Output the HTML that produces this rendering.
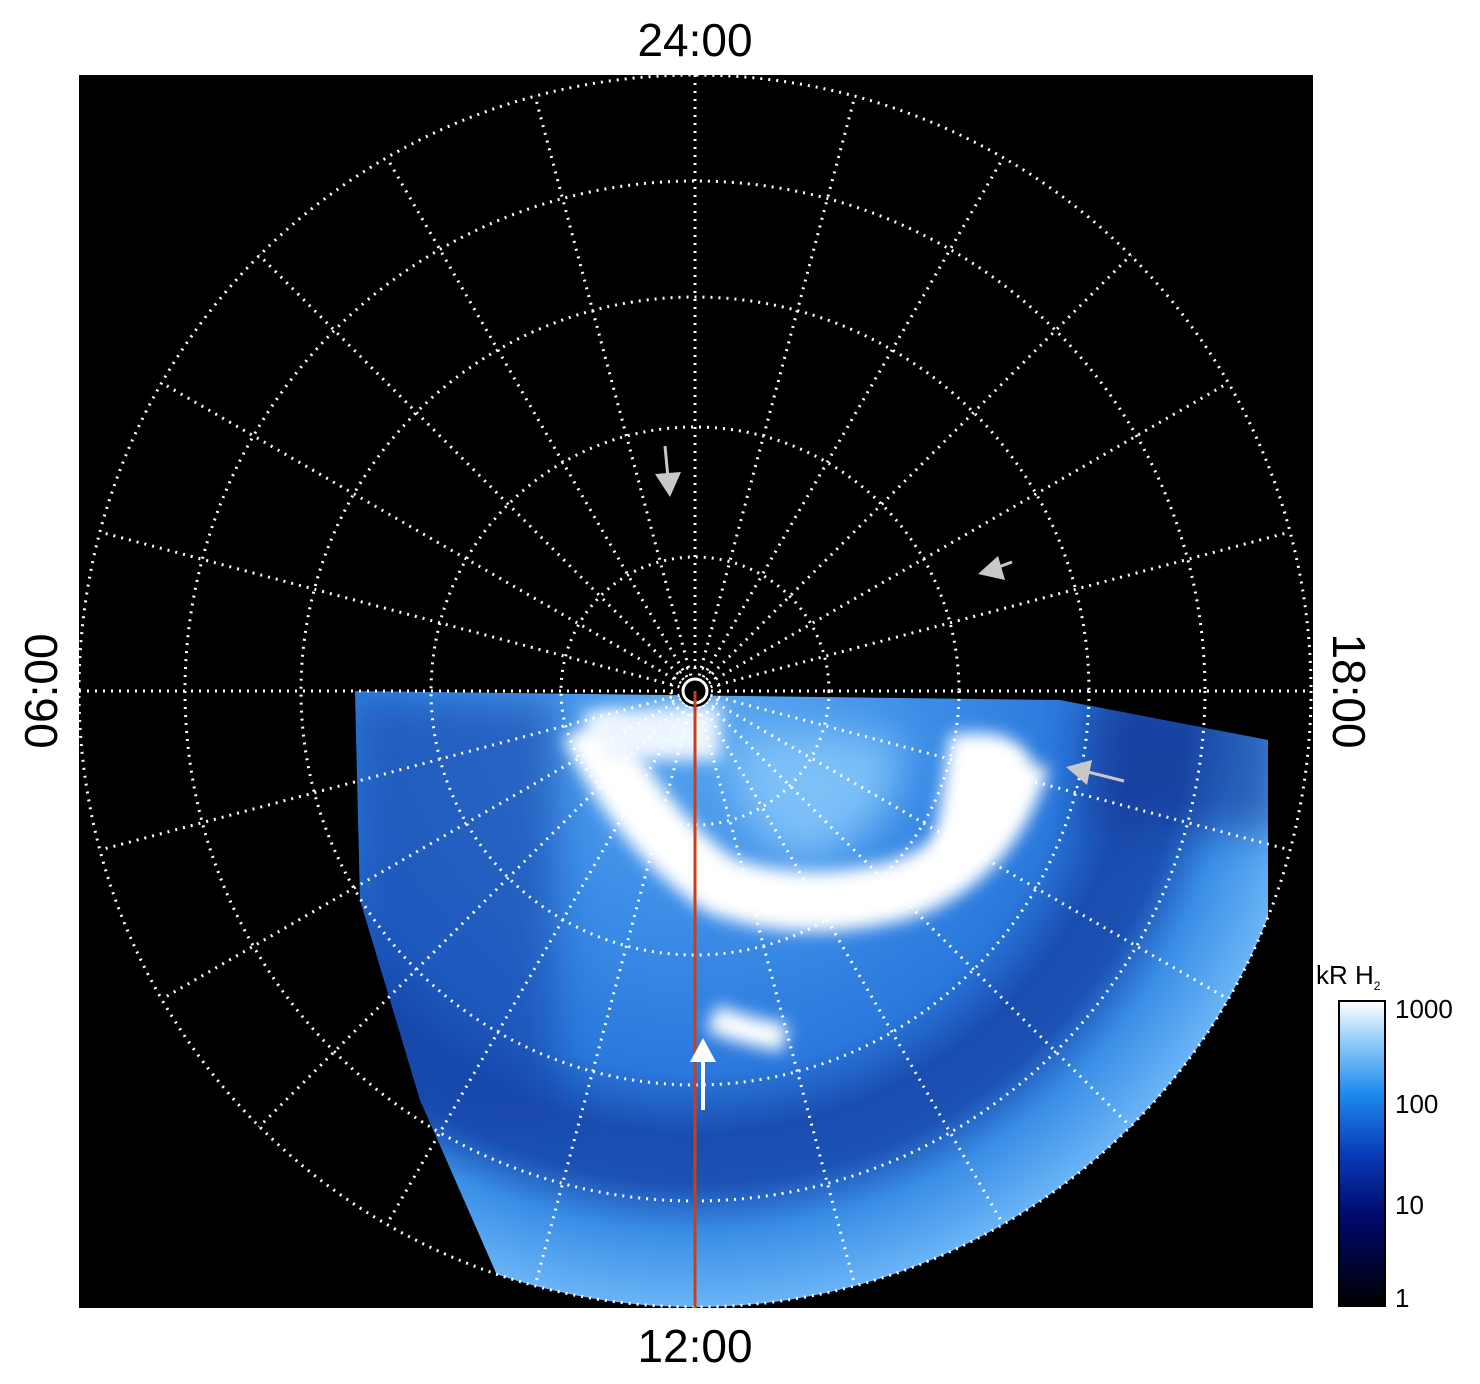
<!DOCTYPE html>
<html><head><style>
body{margin:0;background:#fff;}
svg{display:block;font-family:"Liberation Sans",sans-serif;}
</style></head><body>
<svg width="1480" height="1384" viewBox="0 0 1480 1384">
<defs>
<clipPath id="circ"><circle cx="695" cy="691" r="616"/></clipPath>
<clipPath id="poly"><polygon points="355,691 1060,700 1268,740 1268,1320 600,1320 500,1282 420,1100 360,900"/></clipPath>
<radialGradient id="rg" cx="695" cy="691" r="616" gradientUnits="userSpaceOnUse">
<stop offset="0" stop-color="#5aa8f0"/>
<stop offset="0.4" stop-color="#3a8be6"/>
<stop offset="0.62" stop-color="#2a78dc"/>
<stop offset="0.72" stop-color="#1a4db0"/>
<stop offset="0.8" stop-color="#1c52b4"/>
<stop offset="0.88" stop-color="#3a8ee6"/>
<stop offset="1" stop-color="#6ab4f6"/>
</radialGradient>
<linearGradient id="cb" x1="0" y1="1" x2="0" y2="0">
<stop offset="0" stop-color="#000"/>
<stop offset="0.3" stop-color="#000a70"/>
<stop offset="0.5" stop-color="#0a3cb8"/>
<stop offset="0.7" stop-color="#1e8cf0"/>
<stop offset="0.88" stop-color="#9cd0fa"/>
<stop offset="1" stop-color="#fff"/>
</linearGradient>
<filter id="bl" filterUnits="userSpaceOnUse" x="0" y="0" width="1480" height="1384"><feGaussianBlur stdDeviation="20"/></filter>
<filter id="bl2" filterUnits="userSpaceOnUse" x="0" y="0" width="1480" height="1384"><feGaussianBlur stdDeviation="8"/></filter>
</defs>
<rect x="79" y="75" width="1234" height="1233" fill="#000"/>
<g clip-path="url(#circ)"><g clip-path="url(#poly)">
<rect x="340" y="691" width="980" height="630" fill="url(#rg)"/>
<rect x="355" y="700" width="200" height="430" fill="#1745a8" opacity="0.6" filter="url(#bl)"/>
<rect x="1080" y="700" width="200" height="130" fill="#123a98" opacity="0.6" filter="url(#bl)"/>
<path d="M730,740 Q800,720 900,740 Q900,840 800,860 Q730,840 730,740Z" fill="#7cc0f8" filter="url(#bl)"/>
<path d="M590,725 Q640,830 720,885 Q800,915 900,890 Q990,860 1020,760" fill="none" stroke="#fff" stroke-width="60" filter="url(#bl2)"/>
<path d="M950,735 Q1015,725 1030,760 Q1000,860 930,880 Z" fill="#fff" filter="url(#bl2)"/>
<path d="M580,712 L720,705 L720,760 L610,760Z" fill="#eef6ff" filter="url(#bl2)"/>
<path d="M712,1018 Q740,1030 785,1038" fill="none" stroke="#fff" stroke-width="28" filter="url(#bl2)"/>
</g></g>
<g fill="none" stroke="#fff" stroke-width="3" stroke-dasharray="2 6">
<circle cx="695" cy="691" r="616"/>
<circle cx="695" cy="691" r="510"/>
<circle cx="695" cy="691" r="394"/>
<circle cx="695" cy="691" r="264"/>
<circle cx="695" cy="691" r="134"/>
<circle cx="695" cy="691" r="24"/>
<path d="M79,691H1311M695,75V1307"/>
<line x1="695" y1="691" x2="535" y2="96"/>
<line x1="695" y1="691" x2="387" y2="158"/>
<line x1="695" y1="691" x2="259" y2="255"/>
<line x1="695" y1="691" x2="162" y2="383"/>
<line x1="695" y1="691" x2="100" y2="532"/>
<line x1="695" y1="691" x2="100" y2="850"/>
<line x1="695" y1="691" x2="162" y2="999"/>
<line x1="695" y1="691" x2="259" y2="1127"/>
<line x1="695" y1="691" x2="387" y2="1224"/>
<line x1="695" y1="691" x2="535" y2="1286"/>
<line x1="695" y1="691" x2="855" y2="96"/>
<line x1="695" y1="691" x2="1003" y2="158"/>
<line x1="695" y1="691" x2="1131" y2="255"/>
<line x1="695" y1="691" x2="1228" y2="383"/>
<line x1="695" y1="691" x2="1290" y2="532"/>
<line x1="695" y1="691" x2="1290" y2="850"/>
<line x1="695" y1="691" x2="1228" y2="999"/>
<line x1="695" y1="691" x2="1131" y2="1127"/>
<line x1="695" y1="691" x2="1003" y2="1224"/>
<line x1="695" y1="691" x2="855" y2="1286"/>
</g>
<circle cx="695" cy="691" r="16" fill="#000"/>
<circle cx="695" cy="691" r="12" fill="none" stroke="#fff" stroke-width="3"/>
<line x1="695" y1="691" x2="695" y2="1308" stroke="#c8401a" stroke-width="3"/>
<g fill="#c8c8c8" stroke="#c8c8c8" stroke-width="3">
<line x1="665" y1="446" x2="668" y2="478"/><polygon points="655,474 681,472 670,497" stroke="none"/>
<line x1="1012" y1="562" x2="996" y2="568"/><polygon points="978,574 998,556 1005,580" stroke="none"/>
<line x1="1124" y1="781" x2="1088" y2="772"/><polygon points="1066,767 1092,760 1087,785" stroke="none"/>
</g>
<g fill="#fff" stroke="#fff" stroke-width="4">
<line x1="703" y1="1110" x2="703" y2="1060"/><polygon points="690,1062 716,1062 703,1038" stroke="none"/>
</g>
<g font-size="46" fill="#000" text-anchor="middle">
<text x="695" y="56">24:00</text>
<text x="695" y="1362">12:00</text>
<text transform="translate(57,691) rotate(-90)">06:00</text>
<text transform="translate(1333,691) rotate(90)">18:00</text>
</g>
<rect x="1339" y="1001" width="46" height="305" fill="url(#cb)" stroke="#000" stroke-width="2"/>
<g font-size="26" fill="#000">
<text x="1316" y="984">kR H<tspan font-size="12" dy="6">2</tspan></text>
<text x="1395" y="1018">1000</text>
<text x="1395" y="1113">100</text>
<text x="1395" y="1214">10</text>
<text x="1395" y="1307">1</text>
</g>
</svg>
</body></html>
